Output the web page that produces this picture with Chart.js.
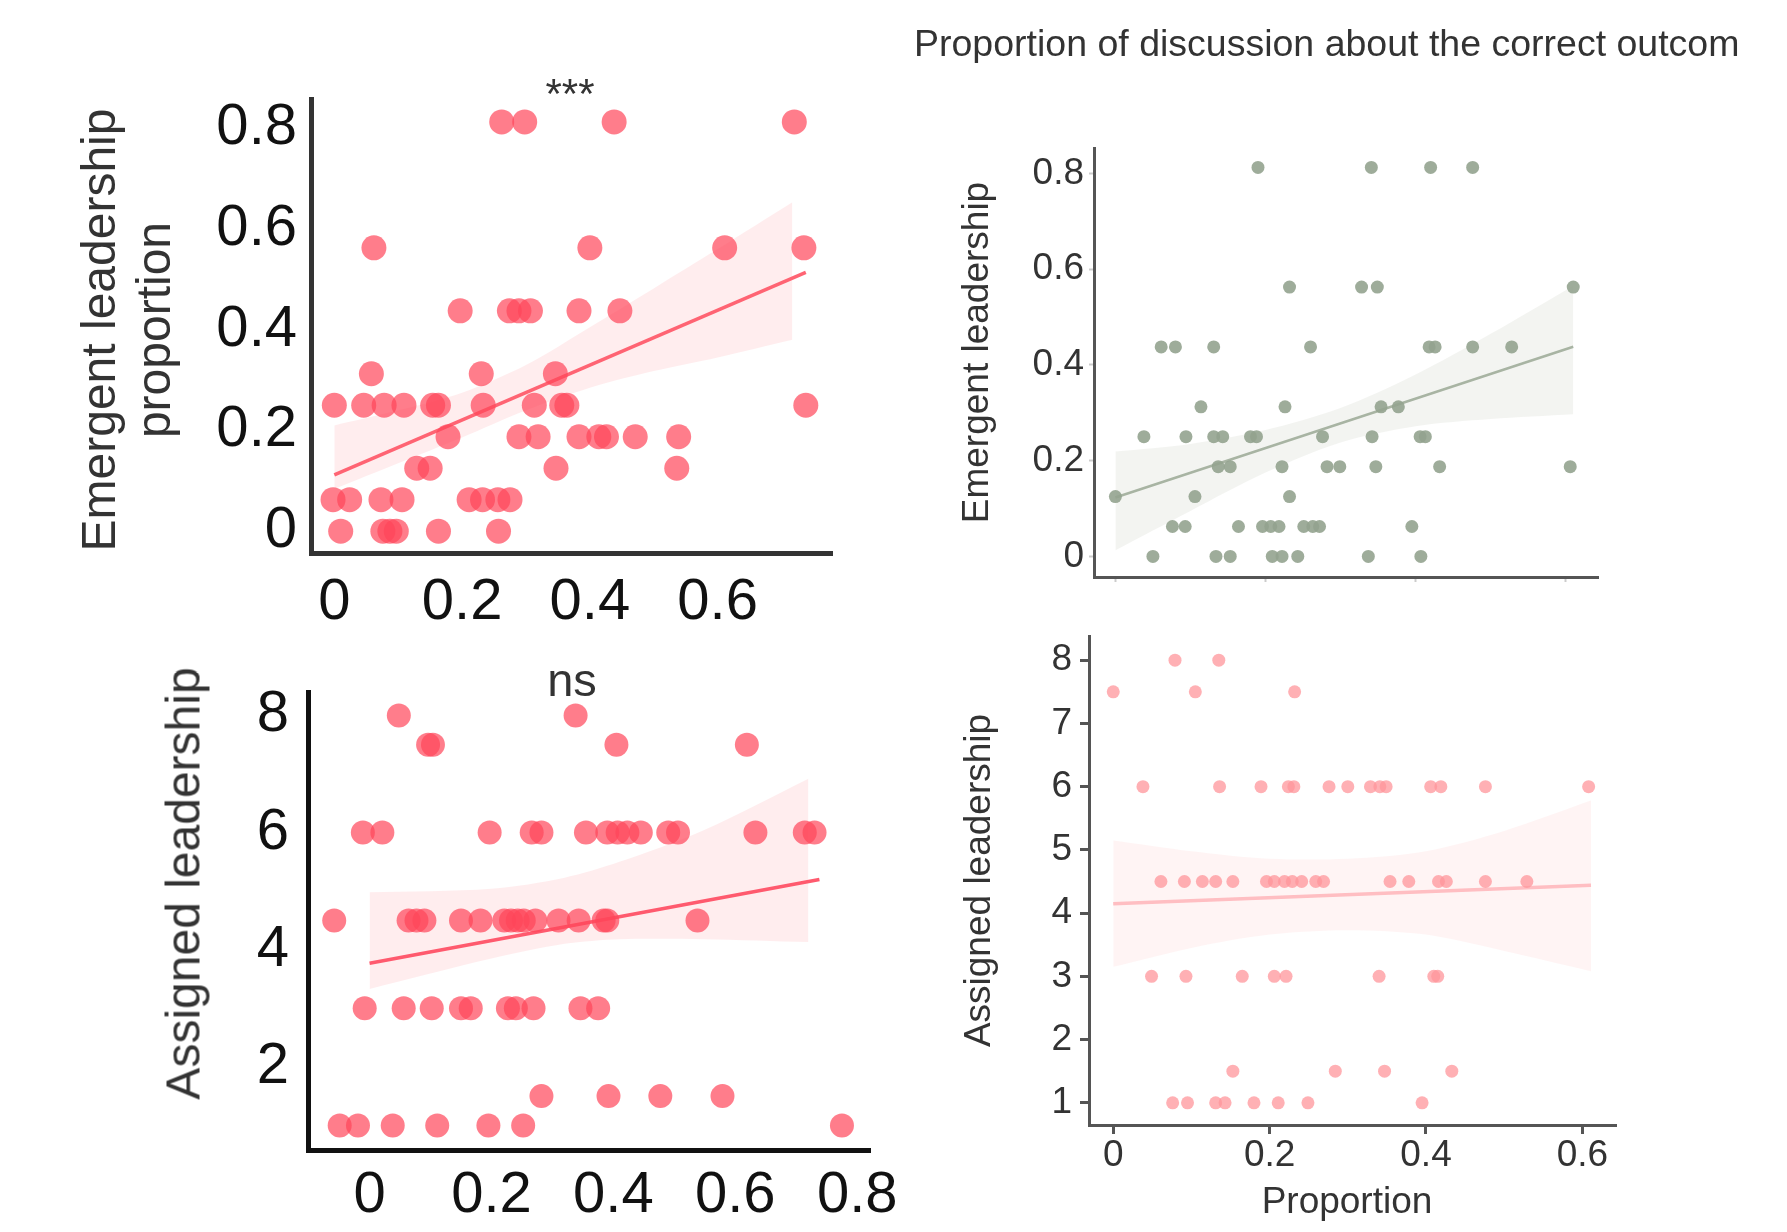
<!DOCTYPE html>
<html>
<head>
<meta charset="utf-8">
<script src="https://cdn.jsdelivr.net/npm/chart.js@4.4.1/dist/chart.umd.min.js"></script>
<style>
  body { margin: 0; background: #fff; }
  #wrap { position: relative; width: 1787px; height: 1232px; overflow: hidden; font-family: 'Liberation Sans', Arial, sans-serif; }
  #wrap canvas { position: absolute; left: 0; top: 0; }
  .lbl { position: absolute; white-space: nowrap; color: #333; }
  .rot { transform: rotate(-90deg); text-align: center; }
</style>
</head>
<body>
<div id="wrap">
  <canvas id="chartA" width="1787" height="1232"></canvas>
  <canvas id="chartB" width="1787" height="1232"></canvas>
  <canvas id="chartC" width="1787" height="1232"></canvas>
  <canvas id="chartD" width="1787" height="1232"></canvas>

  <div class="lbl" style="left:914px; top:25px; width:827px; overflow:hidden; font-size:37.5px; line-height:37.5px;">Proportion of discussion about the correct outcome</div>
  <div class="lbl" style="left:470px; top:73px; width:200px; text-align:center; font-size:42px; line-height:42px;">***</div>
  <div class="lbl" style="left:472px; top:656px; width:200px; text-align:center; font-size:47px; line-height:47px;">ns</div>

  <div class="lbl rot" style="left:-174px; top:275px; width:600px; height:110px; font-size:48px; line-height:55px;">Emergent leadership<br>proportion</div>
  <div class="lbl rot" style="left:-117px; top:856px; width:600px; height:55px; font-size:48px; line-height:55px;">Assigned leadership</div>
  <div class="lbl rot" style="left:725px; top:334px; width:500px; height:37px; font-size:37px; line-height:37px;">Emergent leadership</div>
  <div class="lbl rot" style="left:727px; top:862px; width:500px; height:37px; font-size:37px; line-height:37px;">Assigned leadership</div>
  <div class="lbl" style="left:1197px; top:1182px; width:300px; text-align:center; font-size:37px; line-height:37px;">Proportion</div>
</div>

<script>
// ---- data ----
// top left: emergent leadership proportion (rows share one y level)
const levelsA = [0.8125, 0.5625, 0.4375, 0.3125, 0.25, 0.1875, 0.125, 0.0625, 0];
const rowsA = [
  [0.262, 0.298, 0.438, 0.72],
  [0.062, 0.4, 0.611, 0.735],
  [0.197, 0.274, 0.289, 0.307, 0.383, 0.447],
  [0.058, 0.23, 0.346],
  [0, 0.046, 0.078, 0.109, 0.154, 0.163, 0.233, 0.313, 0.356, 0.364, 0.738],
  [0.178, 0.289, 0.319, 0.383, 0.414, 0.426, 0.471, 0.539],
  [0.129, 0.15, 0.347, 0.536],
  [-0.002, 0.024, 0.073, 0.106, 0.211, 0.232, 0.256, 0.275],
  [0.01, 0.076, 0.087, 0.097, 0.163, 0.257]
];
const fitAx = [0, 0.738];
const fitAy = [0.112, 0.514];
const bandAx = [0, 0.1, 0.2, 0.3, 0.4, 0.5, 0.6, 0.717];
const bandAhi = [0.21, 0.24, 0.275, 0.33, 0.405, 0.482, 0.56, 0.653];
const bandAlo = [0.084, 0.135, 0.186, 0.24, 0.285, 0.318, 0.345, 0.38];

// bottom left: assigned leadership
const levelsB = [8, 7.5, 6, 4.5, 3, 1.5, 1];
const rowsB = [
  [0.048, 0.338],
  [0.096, 0.104, 0.405, 0.619],
  [-0.011, 0.021, 0.197, 0.266, 0.282, 0.355, 0.39, 0.407, 0.423, 0.445, 0.49, 0.506, 0.633, 0.714, 0.73],
  [-0.058, 0.064, 0.077, 0.09, 0.15, 0.182, 0.221, 0.232, 0.243, 0.253, 0.272, 0.31, 0.343, 0.384, 0.39, 0.538],
  [-0.008, 0.056, 0.102, 0.15, 0.166, 0.227, 0.24, 0.269, 0.346, 0.375],
  [0.282, 0.392, 0.477, 0.579],
  [-0.049, -0.019, 0.038, 0.111, 0.195, 0.252, 0.775]
];
const fitBx = [0, 0.738];
const fitBy = [3.77, 5.2];
const bandBx = [0, 0.2, 0.32, 0.41, 0.55, 0.72];
const bandBhi = [4.98, 5.04, 5.23, 5.5, 6.05, 6.92];
const bandBlo = [3.33, 3.85, 4.1, 4.18, 4.18, 4.13];

// top right: emergent leadership
const levelsC = [0.8125, 0.5625, 0.4375, 0.3125, 0.25, 0.1875, 0.125, 0.0625, 0];
const rowsC = [
  [0.19, 0.341, 0.42, 0.476],
  [0.232, 0.328, 0.349, 0.61],
  [0.061, 0.08, 0.131, 0.26, 0.418, 0.426, 0.476, 0.528],
  [0.114, 0.226, 0.354, 0.377],
  [0.038, 0.094, 0.131, 0.143, 0.18, 0.188, 0.276, 0.342, 0.406, 0.413],
  [0.137, 0.153, 0.222, 0.282, 0.299, 0.347, 0.432, 0.606],
  [0, 0.106, 0.232],
  [0.076, 0.093, 0.164, 0.196, 0.207, 0.218, 0.251, 0.263, 0.272, 0.395],
  [0.05, 0.134, 0.153, 0.209, 0.222, 0.243, 0.337, 0.407]
];
const fitCx = [0, 0.61];
const fitCy = [0.123, 0.438];
const bandCx = [0, 0.1, 0.2, 0.3, 0.4, 0.5, 0.61];
const bandChi = [0.219, 0.235, 0.264, 0.31, 0.38, 0.465, 0.565];
const bandClo = [0.013, 0.095, 0.175, 0.238, 0.272, 0.287, 0.297];

// bottom right: assigned leadership
const levelsD = [8, 7.5, 6, 4.5, 3, 1.5, 1];
const rowsD = [
  [0.079, 0.135],
  [0, 0.105, 0.232],
  [0.038, 0.136, 0.189, 0.224, 0.231, 0.276, 0.3, 0.329, 0.341, 0.349, 0.406, 0.419, 0.476, 0.608],
  [0.061, 0.091, 0.114, 0.131, 0.153, 0.196, 0.206, 0.219, 0.229, 0.241, 0.259, 0.269, 0.354, 0.378, 0.416, 0.426, 0.476, 0.529],
  [0.049, 0.093, 0.165, 0.206, 0.221, 0.34, 0.41, 0.415],
  [0.153, 0.284, 0.347, 0.433],
  [0.076, 0.095, 0.131, 0.143, 0.18, 0.211, 0.249, 0.395]
];
const fitDx = [0, 0.611];
const fitDy = [4.15, 4.44];
const bandDx = [0, 0.1, 0.2, 0.3, 0.4, 0.5, 0.611];
const bandDhi = [5.15, 4.98, 4.86, 4.86, 4.98, 5.3, 5.78];
const bandDlo = [3.15, 3.45, 3.66, 3.73, 3.66, 3.4, 3.08];

// tick labels
const xTicksA = [0, 0.2, 0.4, 0.6];
const yTicksA = [0, 0.2, 0.4, 0.6, 0.8];
const xTicksB = [0, 0.2, 0.4, 0.6, 0.8];
const yTicksB = [2, 4, 6, 8];
const xTicksC = [0, 0.2, 0.4, 0.6];
const yTicksC = [0, 0.2, 0.4, 0.6, 0.8];
const xTicksD = [0, 0.2, 0.4, 0.6];
const yTicksD = [1, 2, 3, 4, 5, 6, 7, 8];

// ---- drawing ----
const FONT = "'Liberation Sans', Arial, sans-serif";
const H = 1232, W = 1787;

function toPoints(levels, rows) {
    var pts = [];
    levels.forEach(function(lv, i) {
        rows[i].forEach(function(x) { pts.push({ x: x, y: lv }); });
    });
    return pts;
}

function pairs(xs, ys) {
    return xs.map(function(x, i) { return { x: x, y: ys[i] }; });
}

function fmt(v) {
    return v === 0 ? '0' : String(v);
}

function makePanel(id, d, s) {
    var tl = s.tickLength;
    return new Chart(document.getElementById(id), {
        type: 'scatter',
        data: {
            datasets: [
                { type: 'line', data: pairs(d.bandX, d.bandLo), borderColor: 'rgba(0,0,0,0)', borderWidth: 0, pointRadius: 0, fill: false, tension: 0.3, order: 3 },
                { type: 'line', data: pairs(d.bandX, d.bandHi), borderColor: 'rgba(0,0,0,0)', borderWidth: 0, pointRadius: 0, fill: '-1', backgroundColor: s.band, tension: 0.3, order: 3 },
                { type: 'line', data: pairs(d.fitX, d.fitY), borderColor: s.line, borderWidth: s.lineWidth, pointRadius: 0, fill: false, order: 2 },
                { data: toPoints(d.levels, d.rows), backgroundColor: s.point, pointRadius: s.radius, pointHoverRadius: s.radius, borderWidth: 0, clip: false, order: 1 }
            ]
        },
        options: {
            responsive: false,
            animation: false,
            devicePixelRatio: 1,
            layout: { padding: { left: 0, top: s.area.top, right: W - s.area.right, bottom: 0 } },
            plugins: { legend: { display: false }, tooltip: { enabled: false } },
            scales: {
                x: {
                    type: 'linear',
                    min: s.xMin, max: s.xMax,
                    afterBuildTicks: function(sc) { sc.ticks = d.xTicks.map(function(v) { return { value: v }; }); },
                    afterFit: function(sc) { sc.height = H - s.area.bottom; },
                    border: { display: true, color: s.axis, width: s.axisWidth },
                    grid: { drawOnChartArea: false, drawTicks: tl > 0, tickLength: tl, tickColor: s.tickColor, tickWidth: s.tickWidth },
                    ticks: { display: s.xLabels, padding: s.xPad, color: s.text, font: { family: FONT, size: s.fontSize, lineHeight: 1 }, maxRotation: 0, autoSkip: false, callback: fmt }
                },
                y: {
                    type: 'linear',
                    min: s.yMin, max: s.yMax,
                    afterBuildTicks: function(sc) { sc.ticks = d.yTicks.map(function(v) { return { value: v }; }); },
                    afterFit: function(sc) { sc.width = s.area.left; },
                    border: { display: true, color: s.axis, width: s.axisWidth },
                    grid: { drawOnChartArea: false, drawTicks: tl > 0, tickLength: tl, tickColor: s.tickColor, tickWidth: s.tickWidth },
                    ticks: { padding: s.yPad, color: s.text, font: { family: FONT, size: s.fontSize, lineHeight: 1 }, autoSkip: false, callback: fmt }
                }
            }
        }
    });
}

document.addEventListener('DOMContentLoaded', function() {
    makePanel('chartA',
        { levels: levelsA, rows: rowsA, fitX: fitAx, fitY: fitAy, bandX: bandAx, bandHi: bandAhi, bandLo: bandAlo, xTicks: xTicksA, yTicks: yTicksA },
        { area: { left: 311, right: 832, top: 99, bottom: 553 }, xMin: -0.0365, xMax: 0.779, yMin: -0.0433, yMax: 0.858,
          point: 'rgba(255, 70, 90, 0.7)', radius: 12.5, line: 'rgb(255, 100, 115)', lineWidth: 3.5, band: 'rgba(255, 190, 195, 0.28)',
          axis: '#333', axisWidth: 5, tickLength: 0, text: '#111', fontSize: 58, xPad: 21, yPad: 14, xLabels: true });

    makePanel('chartB',
        { levels: levelsB, rows: rowsB, fitX: fitBx, fitY: fitBy, bandX: bandBx, bandHi: bandBhi, bandLo: bandBlo, xTicks: xTicksB, yTicks: yTicksB },
        { area: { left: 308, right: 870, top: 692, bottom: 1150 }, xMin: -0.101, xMax: 0.821, yMin: 0.58, yMax: 8.4,
          point: 'rgba(255, 70, 90, 0.7)', radius: 12, line: 'rgb(255, 90, 110)', lineWidth: 3.5, band: 'rgba(255, 190, 195, 0.28)',
          axis: '#111', axisWidth: 5, tickLength: 0, text: '#111', fontSize: 58, xPad: 17, yPad: 19, xLabels: true });

    makePanel('chartC',
        { levels: levelsC, rows: rowsC, fitX: fitCx, fitY: fitCy, bandX: bandCx, bandHi: bandChi, bandLo: bandClo, xTicks: xTicksC, yTicks: yTicksC },
        { area: { left: 1094, right: 1598, top: 148, bottom: 577 }, xMin: -0.0285, xMax: 0.643, yMin: -0.043, yMax: 0.853,
          point: 'rgba(148, 163, 143, 0.9)', radius: 6.5, line: 'rgb(168, 180, 163)', lineWidth: 2.5, band: 'rgba(215, 218, 208, 0.3)',
          axis: '#555', axisWidth: 3, tickLength: 5, tickColor: '#ccc', tickWidth: 2, text: '#333', fontSize: 37, xPad: 4, yPad: 5, xLabels: false });

    makePanel('chartD',
        { levels: levelsD, rows: rowsD, fitX: fitDx, fitY: fitDy, bandX: bandDx, bandHi: bandDhi, bandLo: bandDlo, xTicks: xTicksD, yTicks: yTicksD },
        { area: { left: 1089, right: 1616, top: 636, bottom: 1125 }, xMin: -0.031, xMax: 0.643, yMin: 0.649, yMax: 8.383,
          point: 'rgba(255, 150, 155, 0.75)', radius: 6.5, line: 'rgb(255, 190, 194)', lineWidth: 3.5, band: 'rgba(255, 205, 205, 0.22)',
          axis: '#555', axisWidth: 3, tickLength: 9, tickColor: '#555', tickWidth: 3, text: '#333', fontSize: 37, xPad: 3, yPad: 8, xLabels: true });
});
</script>
</body>
</html>
